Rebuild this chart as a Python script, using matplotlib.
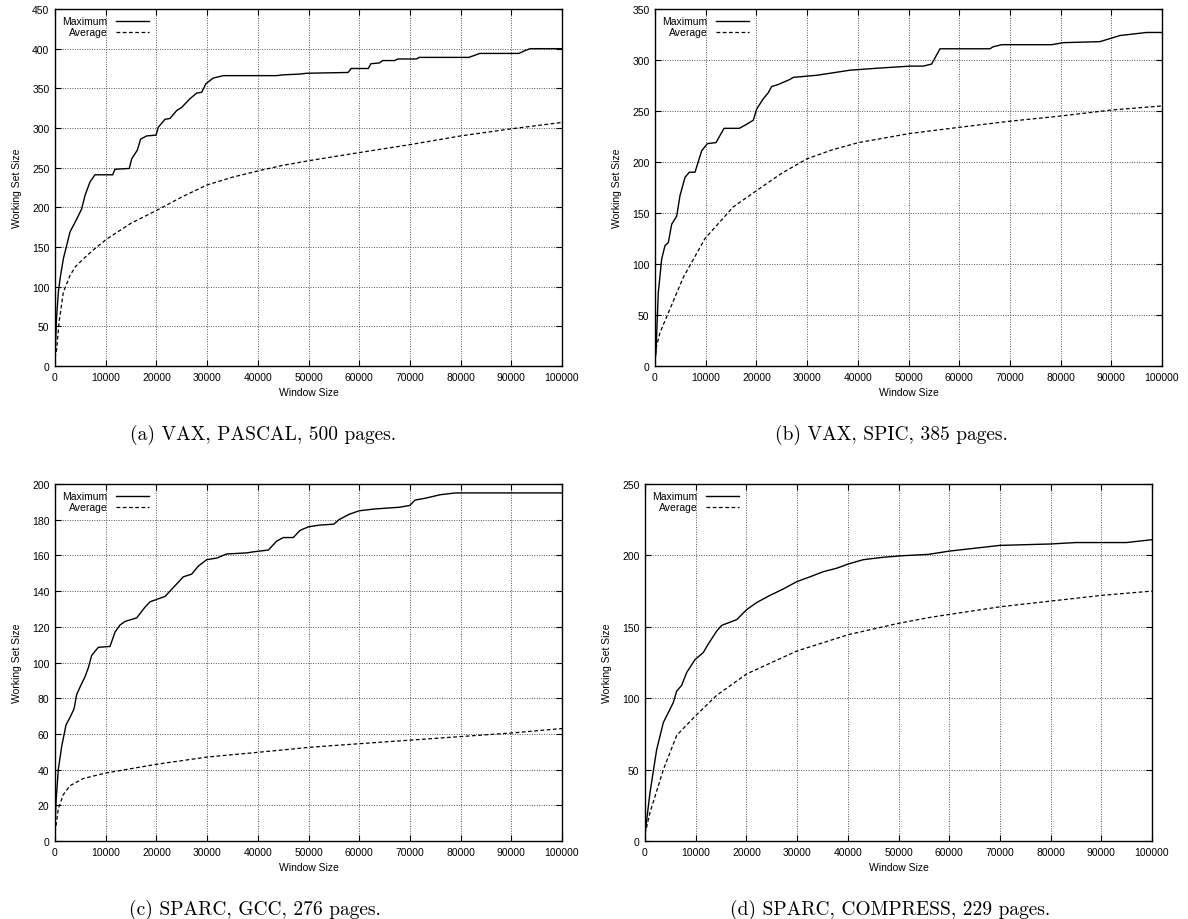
import numpy as np
import matplotlib
matplotlib.use('Agg')
import matplotlib.pyplot as plt

plt.rcParams['font.family'] = ['Liberation Sans', 'DejaVu Sans']

# (a) VAX, PASCAL
a_max_x = [0, 300, 660, 1000, 1640, 2300, 2960, 4270, 5260, 5920, 6900, 7890, 11380, 11830, 14650, 15120,
           16230, 16890, 18080, 19920, 20380, 21700, 22680, 24000, 24990, 26630, 27950, 28930, 29780, 31220,
           33200, 43700, 45000, 48300, 49600, 57800, 58400, 61800, 62300, 64000, 64600, 67000, 67600, 71300,
           71800, 81600, 82500, 83800, 91500, 92500, 93700, 100000]
a_max_y = [10, 60, 93, 110, 135, 152, 169, 185, 198, 215, 232, 241, 241, 248, 249, 261,
           272, 286, 290, 291, 301, 311, 312, 322, 326, 337, 344, 345, 356, 363,
           366, 366, 367, 368, 369, 370, 375, 375, 381, 382, 385, 385, 387, 387,
           389, 389, 391, 394, 394, 397, 400, 400]
a_avg_x = [0, 330, 800, 1640, 2960, 4000, 5590, 7500, 10200, 15000, 20000, 25000, 29900, 35000, 40100,
           45000, 50300, 60000, 70000, 80000, 90000, 100000]
a_avg_y = [10, 21, 55, 93, 114, 125, 135, 146, 160, 180, 196, 213, 228, 238, 246,
           253, 259, 269, 279, 290, 299, 307]

# (b) VAX, SPIC
b_max_x = [0, 200, 650, 1320, 1970, 2630, 3290, 4280, 4930, 5920, 6770, 7890, 9210, 10320, 12030, 13610,
           16630, 18080, 19390, 20050, 21360, 22350, 23010, 24320, 26630, 27290, 31900, 38460, 44000, 50300,
           52900, 54560, 56210, 66070, 66700, 68380, 78240, 80530, 87770, 89740, 91720, 96980, 100000]
b_max_y = [5, 14, 72, 105, 118, 121, 139, 147, 167, 185, 190, 190, 211, 218, 219, 233,
           233, 237, 241, 252, 262, 268, 274, 276, 281, 283, 285, 290, 292, 294,
           294, 296, 311, 311, 313, 315, 315, 317, 318, 321, 324, 327, 327]
b_avg_x = [0, 200, 1000, 2960, 5590, 9860, 15440, 20050, 25000, 29920, 35000, 40100, 50300, 60000,
           70020, 79880, 90070, 100000]
b_avg_y = [5, 17, 33, 56, 87, 125, 156, 172, 189, 203, 212, 219, 228, 234,
           240, 245, 251, 255]

# (c) SPARC, GCC
c_max_x = [0, 200, 650, 1320, 2170, 3090, 3750, 4270, 5060, 5920, 6570, 7230, 8550, 10850, 11830, 12820,
           13810, 16110, 17750, 18740, 21700, 23010, 24000, 25310, 26960, 28270, 29920, 31900, 33870, 37810,
           39120, 42080, 43720, 45030, 47000, 48320, 49960, 52270, 55000, 56000, 58000, 60000, 63000, 68000,
           70000, 71000, 73000, 76000, 79000, 100000]
c_max_y = [8, 22, 40, 53, 65, 70, 74, 82, 87, 92, 97, 104, 108.5, 109, 117, 121,
           123, 125, 131, 134, 137, 141, 144, 148, 149.5, 154, 157.6, 158.5, 160.8, 161.4,
           162, 163, 168, 170, 170, 174, 176, 177, 177.5, 180, 183, 185, 186, 187,
           188, 191, 192, 194, 195, 195]
c_avg_x = [0, 200, 650, 1640, 2960, 5590, 9860, 20050, 29920, 40100, 50300, 60000, 70000, 80000, 90000, 100000]
c_avg_y = [5, 8.6, 18, 26, 31, 35, 38, 43, 47, 49.7, 52.5, 54.5, 56.5, 58.5, 60.5, 63]

# (d) SPARC, COMPRESS
d_max_x = [0, 990, 2300, 3620, 5590, 6250, 7230, 8220, 9860, 11500, 12490, 14140, 15120, 18080, 20050,
           22030, 24650, 27280, 29920, 32540, 35170, 37800, 40100, 43060, 47000, 50950, 55880, 60000,
           65000, 70000, 80000, 85000, 95000, 100000]
d_max_y = [5, 34, 64, 83, 97, 105, 109, 118, 127, 132, 138, 147, 151, 155, 162,
           167, 172, 176.5, 181.6, 185, 188.6, 191, 194, 197, 198.7, 199.8, 200.7, 203,
           205, 207, 208, 209, 209, 211]
d_avg_x = [0, 990, 3620, 6250, 10060, 14140, 20050, 29920, 40100, 49960, 56210, 70000, 80000, 90000, 100000]
d_avg_y = [5, 20, 50, 74, 88, 102, 117, 133, 144.5, 152.4, 156.6, 164, 168, 172, 175]

panels = [
    (a_max_x, a_max_y, a_avg_x, a_avg_y, 450, 50, '(a) VAX, PASCAL, 500 pages.'),
    (b_max_x, b_max_y, b_avg_x, b_avg_y, 350, 50, '(b) VAX, SPIC, 385 pages.'),
    (c_max_x, c_max_y, c_avg_x, c_avg_y, 200, 20, '(c) SPARC, GCC, 276 pages.'),
    (d_max_x, d_max_y, d_avg_x, d_avg_y, 250, 50, '(d) SPARC, COMPRESS, 229 pages.'),
]

W, H = 1188, 920
# axes boxes in pixels: left, right, top, bottom
boxes = [(55, 562, 10, 367), (655, 1162, 10, 367), (55, 562, 485, 842), (645, 1152, 485, 842)]
cap_pos = [(263, 435), (891, 435), (255, 910), (890, 910)]

fig = plt.figure(figsize=(W / 100, H / 100), dpi=100)

for (mx, my, ax_, ay, ymax, ystep, cap), (l, r, t, b), (cx, cy) in zip(panels, boxes, cap_pos):
    ax = fig.add_axes([l / W, 1 - b / H, (r - l) / W, (b - t) / H])
    ax.plot(mx, my, color='black', lw=1.0, label='Maximum')
    ax.plot(ax_, ay, color='black', lw=0.9, linestyle=(0, (3, 2)), label='Average')
    ax.set_xlim(0, 100000)
    ax.set_ylim(0, ymax)
    ax.set_xticks(np.arange(0, 100001, 10000))
    ax.set_yticks(np.arange(0, ymax + 1, ystep))
    ax.tick_params(direction='in', length=4, width=0.8, top=True, right=True, labelsize=7.5, pad=4)
    ax.grid(True, color='#555555', linestyle=(0, (1, 1.5)), linewidth=0.7)
    for s in ax.spines.values():
        s.set_linewidth(1.0)
    ax.set_xlabel('Window Size', fontsize=7.5, labelpad=4)
    ax.set_ylabel('Working Set Size', fontsize=7.5, labelpad=7)
    ax.legend(loc='upper left', frameon=False, markerfirst=False, fontsize=7.5, handlelength=3.2,
              labelspacing=0.1, borderaxespad=0.3, handletextpad=0.8)
    fig.text(cx / W, 1 - cy / H, cap, ha='center', va='center', fontsize=14, family='cmr10')

fig.savefig('out.png', dpi=100)
